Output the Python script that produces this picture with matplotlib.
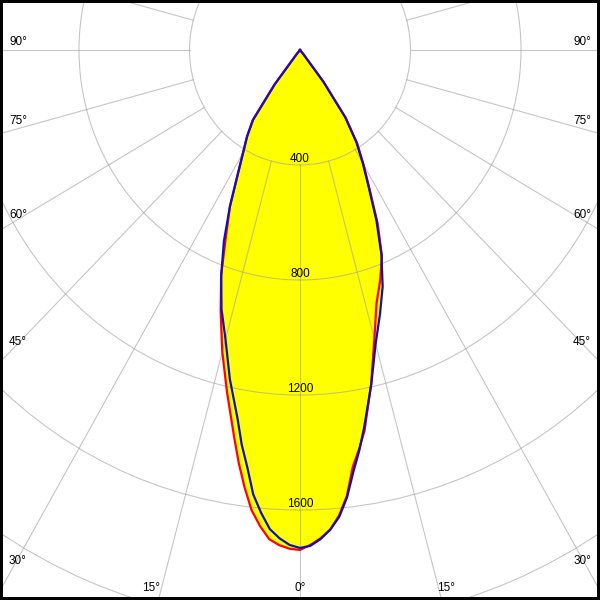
import numpy as np
import matplotlib
matplotlib.use("Agg")
import matplotlib.pyplot as plt
from matplotlib.patches import Rectangle

# angle from nadir (deg) and luminous intensity (cd)
angles = [0, 1.25, 2.5, 3.75, 5, 6.25, 7.5, 8.75, 10, 12.5, 15, 17.5, 20, 22.5,
          25, 27.5, 30, 32.5, 35, 37.5, 40, 42.5]

red_left = [1739, 1735, 1724, 1705, 1662, 1610, 1535, 1455, 1370, 1220, 1087, 955,
            835, 700, 600, 490, 413, 358, 297, 150, 20, 0]
red_right = [1739, 1722, 1700, 1672, 1625, 1560, 1463, 1405, 1345, 1190, 1040, 922,
             850, 775, 665, 545, 460, 385, 290, 140, 20, 0]
blue_left = [1732, 1722, 1700, 1670, 1616, 1555, 1463, 1388, 1302, 1173, 1042, 945,
             834, 720, 600, 487, 411, 356, 297, 150, 20, 0]
blue_right = [1732, 1725, 1703, 1672, 1630, 1565, 1480, 1410, 1335, 1192, 1058, 963,
              875, 770, 655, 540, 455, 380, 285, 140, 20, 0]

ring_values = [400, 800, 1200, 1600, 2000]
ring_labels = ["400", "800", "1200", "1600"]
spoke_angles = list(range(0, 360, 15))
r_max = 2400

# side labels (text, x px, y px, align)
side_labels = [
    ("90°", 9, 42, "left"), ("75°", 9, 121, "left"), ("60°", 9, 215, "left"),
    ("45°", 9, 342, "left"), ("30°", 9, 561, "left"),
    ("90°", 591, 42, "right"), ("75°", 591, 121, "right"), ("60°", 591, 215, "right"),
    ("45°", 591, 342, "right"), ("30°", 591, 561, "right"),
    ("15°", 151, 588, "center"), ("0°", 300, 588, "center"), ("15°", 446, 588, "center"),
]


def full_curve(left, right):
    a = np.array(angles)
    theta = np.concatenate([-a[::-1], a[1:]])
    r = np.concatenate([np.array(left)[::-1], np.array(right)[1:]])
    return np.radians(theta), r


plt.rcParams["font.family"] = ["Liberation Sans", "DejaVu Sans"]

W = 600
fig = plt.figure(figsize=(6, 6), dpi=100, facecolor="white")

# pixel scale of the original: slightly stretched vertically
cx, cy = 300, 550
px_h = 110.5 / 400 * r_max
px_v = 115.0 / 400 * r_max
ax = fig.add_axes([(cx - px_h) / W, (cy - px_v) / W, 2 * px_h / W, 2 * px_v / W],
                  projection="polar")
ax.set_theta_zero_location("S")
ax.set_rlim(0, r_max)
ax.set_aspect("auto")
ax.spines["polar"].set_visible(False)
ax.set_xticks([])
ax.set_yticks(ring_values)
ax.set_yticklabels([])
ax.yaxis.grid(True, color="#a0a0a0", alpha=0.6, linewidth=0.8)

for a in spoke_angles:
    ax.plot([np.radians(a)] * 2, [ring_values[0], r_max], color="#a0a0a0",
            alpha=0.6, linewidth=0.8, zorder=1.5)

t_red, r_red = full_curve(red_left, red_right)
t_blue, r_blue = full_curve(blue_left, blue_right)
ax.fill(t_red, r_red, color="#ffff00", zorder=0.5, linewidth=0)
ax.fill(t_blue, r_blue, color="#ffff00", zorder=0.5, linewidth=0)
ax.plot(t_red, r_red, color="#ff0000", linewidth=1.6, zorder=3)
ax.plot(t_blue, r_blue, color="#1010c0", linewidth=1.6, zorder=4)

for v, lab in zip(ring_values, ring_labels):
    ax.text(0, v, lab, ha="center", va="bottom", fontsize=8.5, zorder=5)

for txt, x, y, ha in side_labels:
    fig.text(x / W, 1 - y / W, txt, ha=ha, va="center", fontsize=8.5)

# black frame round the picture
fig.patches.append(Rectangle((0, 0), 1, 1, transform=fig.transFigure, fill=False,
                             edgecolor="black", linewidth=4.3, zorder=10))

fig.savefig("out.png", dpi=100)
